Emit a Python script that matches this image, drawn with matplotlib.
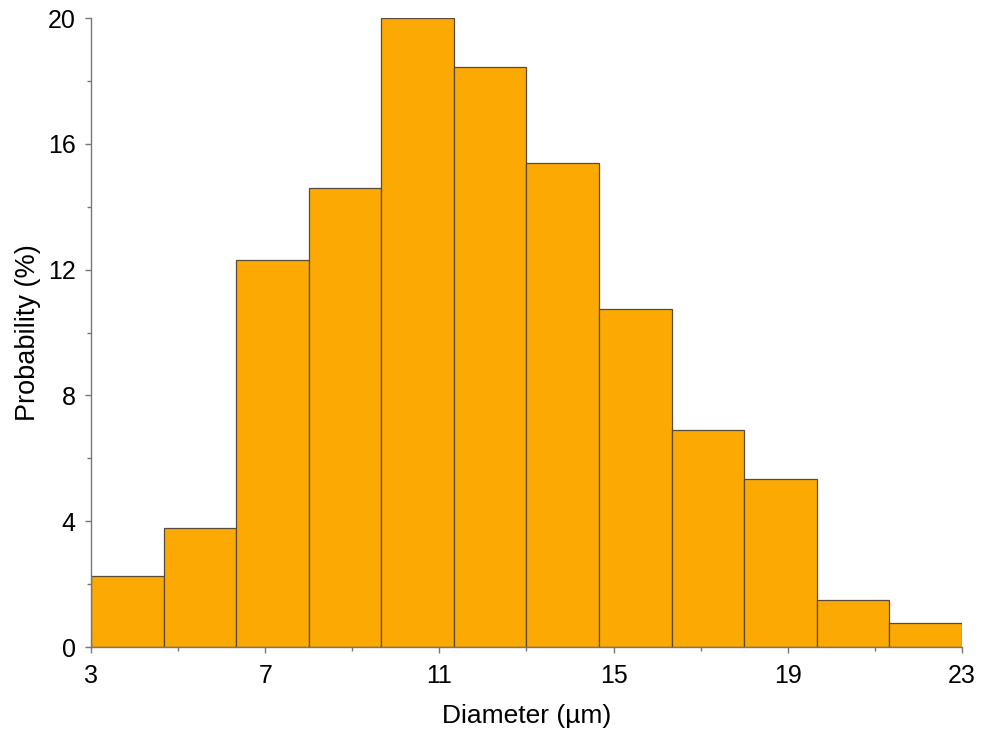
import matplotlib.pyplot as plt
from matplotlib.ticker import MultipleLocator
import numpy as np

plt.rcParams['font.family'] = ['Liberation Sans', 'DejaVu Sans']

# histogram data: bin edges (um) and probability (%) per bin
bin_edges = np.linspace(3, 23, 13)
probability = [2.25, 3.8, 12.3, 14.6, 20.0, 18.45, 15.4, 10.75, 6.9, 5.35, 1.5, 0.75]
x_ticks = [3, 7, 11, 15, 19, 23]
y_ticks = [0, 4, 8, 12, 16, 20]

fig = plt.figure(figsize=(9.84, 7.33), dpi=100)
ax = fig.add_axes([0.0925, 0.1173, 0.8851, 0.8581])

widths = np.diff(bin_edges)
ax.bar(bin_edges[:-1], probability, width=widths, align='edge',
       color='#FDA903', edgecolor='#5a4a3a', linewidth=0.9)

ax.set_xlim(3, 23)
ax.set_ylim(0, 20)
ax.set_xticks(x_ticks)
ax.set_yticks(y_ticks)
ax.xaxis.set_minor_locator(MultipleLocator(2, offset=1))
ax.yaxis.set_minor_locator(MultipleLocator(2))

for side in ['top', 'right']:
    ax.spines[side].set_visible(False)
for side in ['left', 'bottom']:
    ax.spines[side].set_color('#777777')
    ax.spines[side].set_linewidth(1.0)

ax.tick_params(which='major', direction='out', length=4, width=1, color='#777777',
               labelsize=18)
ax.tick_params(axis='x', which='major', pad=8)
ax.tick_params(axis='y', which='major', pad=7)
ax.tick_params(which='minor', direction='out', length=3, width=1, color='#777777')

ax.set_xlabel('Diameter (µm)', fontsize=19, labelpad=12)
ax.set_ylabel('Probability (%)', fontsize=19.5, labelpad=5)

fig.savefig('out.png', dpi=100)
